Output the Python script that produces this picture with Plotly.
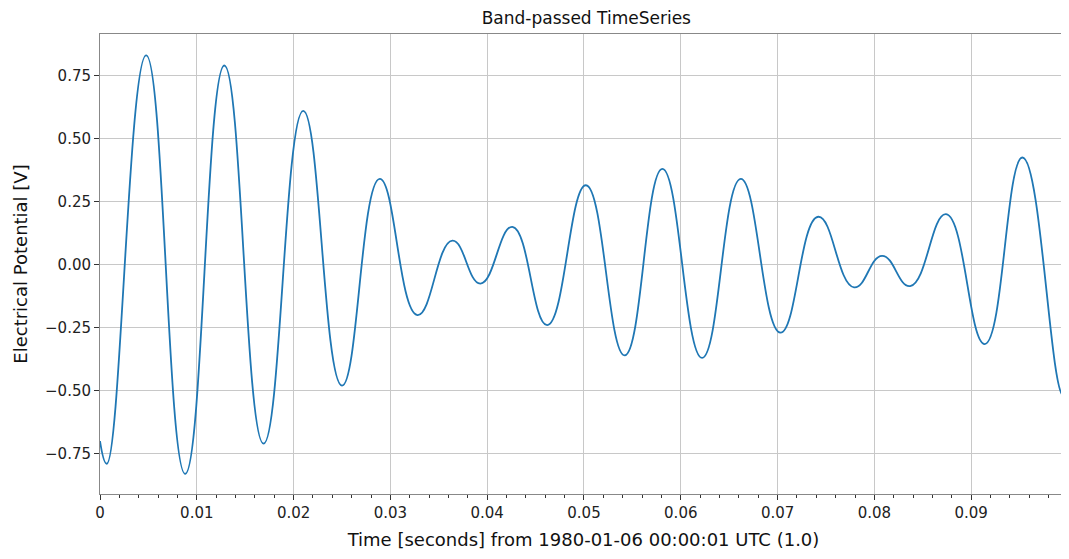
import plotly.graph_objects as go

t = [0.0, 0.0007, 0.00477, 0.0088, 0.01285, 0.0169,
     0.0210, 0.0250, 0.0289, 0.0328, 0.0364, 0.0393,
     0.0426, 0.0462, 0.0502, 0.0542, 0.0581,
     0.0622, 0.0662, 0.0703, 0.0742, 0.0779, 0.0808,
     0.0837, 0.0874, 0.0914, 0.0953, 0.0995, 0.0999]
v = [-0.70, -0.79, 0.83, -0.83, 0.79, -0.71,
     0.61, -0.48, 0.34, -0.20, 0.095, -0.075,
     0.15, -0.24, 0.315, -0.36, 0.38,
     -0.37, 0.34, -0.27, 0.19, -0.09, 0.035,
     -0.085, 0.20, -0.315, 0.425, -0.52, -0.51]
xticks = [0, 0.01, 0.02, 0.03, 0.04, 0.05, 0.06, 0.07, 0.08, 0.09]
xlabels = ["0", "0.01", "0.02", "0.03", "0.04", "0.05", "0.06", "0.07", "0.08", "0.09"]
yticks = [-0.75, -0.5, -0.25, 0.0, 0.25, 0.5, 0.75]
ylabels = ["\u22120.75", "\u22120.50", "\u22120.25", "0.00", "0.25", "0.50", "0.75"]

fig = go.Figure(go.Scatter(x=t, y=v, mode="lines", line=dict(color="#1f77b4", width=1.8, shape="spline", smoothing=1.3)))
ax = dict(showgrid=True, gridcolor="#c8c8c8", gridwidth=1, showline=True, linecolor="#888", mirror=True,
          ticks="outside", ticklen=5, tickcolor="#333", zeroline=False, automargin=False,
          tickfont=dict(size=15, color="#222"))
fig.update_layout(
    width=1069, height=559, plot_bgcolor="white", paper_bgcolor="white",
    margin=dict(l=92, r=10, t=26, b=73, autoexpand=False), showlegend=False,
    font=dict(family="DejaVu Sans", color="#111"),
    title=dict(text="Band-passed TimeSeries", x=0.541, xanchor="center", y=0.982, yanchor="middle",
               font=dict(size=17), automargin=False),
    xaxis=dict(ax, range=[0, 0.0999], tickvals=xticks, ticktext=xlabels,
               minor=dict(dtick=0.002, ticks="outside", ticklen=3, tickcolor="#333", showgrid=False),
               title=dict(text="Time [seconds] from 1980-01-06 00:00:01 UTC (1.0)", font=dict(size=18), standoff=12)),
    yaxis=dict(ax, range=[-0.91, 0.915], tickvals=yticks, ticktext=ylabels,
               title=dict(text="Electrical Potential [V]", font=dict(size=18), standoff=12)),
)
fig.write_html("out.html")
